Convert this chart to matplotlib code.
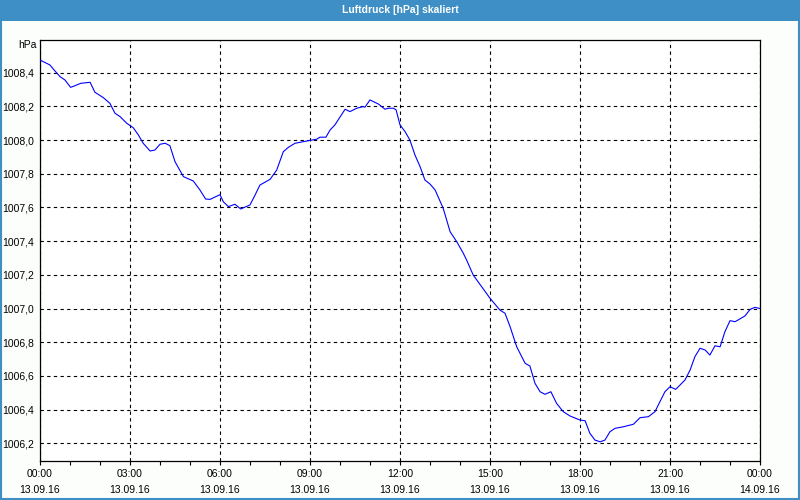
import matplotlib.pyplot as plt
from matplotlib.ticker import MultipleLocator, FixedLocator

# Luftdruck, 13.09.16 00:00 bis 14.09.16 00:00 (Stunden seit Mitternacht)
hours = [0.0, 0.33, 0.5, 0.67, 0.83, 1.02, 1.17, 1.36, 1.67, 1.83, 2.11, 2.33,
         2.5, 2.67, 2.89, 3.11, 3.28, 3.44, 3.67, 3.83, 4.0, 4.17, 4.33, 4.5,
         4.78, 5.11, 5.33, 5.52, 5.67, 6.0, 6.11, 6.28, 6.5, 6.69, 7.0, 7.17,
         7.33, 7.67, 7.89, 8.11, 8.28, 8.5, 8.94, 9.22, 9.33, 9.53, 9.67, 9.83,
         10.17, 10.33, 10.56, 10.78, 10.83, 11.0, 11.28, 11.5, 11.61, 11.78,
         11.87, 12.0, 12.17, 12.33, 12.5, 12.67, 12.83, 13.0, 13.17, 13.44,
         13.67, 13.89, 14.11, 14.22, 14.44, 14.72, 15.0, 15.33, 15.5, 15.67,
         15.89, 16.17, 16.33, 16.5, 16.67, 16.83, 17.03, 17.22, 17.44, 17.67,
         18.0, 18.17, 18.33, 18.5, 18.67, 18.83, 19.0, 19.17, 19.44, 19.78,
         20.0, 20.28, 20.5, 20.83, 21.0, 21.19, 21.5, 21.67, 21.83, 22.0,
         22.17, 22.33, 22.5, 22.67, 22.83, 23.0, 23.17, 23.5, 23.67, 23.83, 24.0]
pressure = [1008.475, 1008.446, 1008.41, 1008.376, 1008.357, 1008.313, 1008.323,
            1008.337, 1008.343, 1008.284, 1008.252, 1008.218, 1008.159, 1008.139,
            1008.10, 1008.073, 1008.03, 1007.981, 1007.935, 1007.941, 1007.975,
            1007.981, 1007.967, 1007.872, 1007.783, 1007.757, 1007.704, 1007.65,
            1007.648, 1007.676, 1007.634, 1007.605, 1007.619, 1007.591, 1007.615,
            1007.674, 1007.733, 1007.767, 1007.822, 1007.931, 1007.957, 1007.981,
            1007.996, 1008.005, 1008.017, 1008.017, 1008.06, 1008.09, 1008.183,
            1008.169, 1008.189, 1008.199, 1008.195, 1008.238, 1008.214, 1008.183,
            1008.189, 1008.189, 1008.179, 1008.09, 1008.05, 1008.0, 1007.911,
            1007.842, 1007.763, 1007.739, 1007.704, 1007.595, 1007.456, 1007.397,
            1007.328, 1007.288, 1007.199, 1007.13, 1007.061, 1006.991, 1006.972,
            1006.892, 1006.773, 1006.675, 1006.659, 1006.556, 1006.506, 1006.491,
            1006.506, 1006.437, 1006.388, 1006.362, 1006.338, 1006.334, 1006.259,
            1006.219, 1006.209, 1006.219, 1006.269, 1006.289, 1006.298, 1006.313,
            1006.352, 1006.358, 1006.388, 1006.506, 1006.536, 1006.52, 1006.576,
            1006.635, 1006.714, 1006.764, 1006.754, 1006.724, 1006.779, 1006.773,
            1006.862, 1006.928, 1006.922, 1006.956, 1006.995, 1007.007, 1007.0]

tick_hours = [0, 3, 6, 9, 12, 15, 18, 21, 24]
tick_labels = ["00:00\n13.09.16", "03:00\n13.09.16", "06:00\n13.09.16",
               "09:00\n13.09.16", "12:00\n13.09.16", "15:00\n13.09.16",
               "18:00\n13.09.16", "21:00\n13.09.16", "00:00\n14.09.16"]
y_ticks = [1006.2, 1006.4, 1006.6, 1006.8, 1007.0, 1007.2, 1007.4, 1007.6,
           1007.8, 1008.0, 1008.2, 1008.4]

plt.rcParams['font.family'] = ['Liberation Sans', 'DejaVu Sans']
plt.rcParams['font.size'] = 7.5

fig = plt.figure(figsize=(8, 5), dpi=100, facecolor='#fcfefc')

# Titelleiste
fig.patches.append(plt.Rectangle((0, 0.959), 1, 0.041, transform=fig.transFigure,
                                 facecolor='#3d8fc6', edgecolor='none', zorder=0))
fig.text(0.5, 0.98, "Luftdruck [hPa] skaliert", color='white', fontsize=7.5,
         fontweight='bold', ha='center', va='center')
# blauer Rahmen
fig.patches.append(plt.Rectangle((0.001, 0.002), 0.998, 0.96, transform=fig.transFigure,
                                 facecolor='none', edgecolor='#3d8fc6', linewidth=1.5))

ax = fig.add_axes([0.05, 0.078, 0.9, 0.842])
ax.set_facecolor('white')
ax.plot(hours, pressure, color='#0000ff', linewidth=0.8, zorder=3)

ax.set_xlim(0, 24)
ax.set_ylim(1006.095, 1008.594)

ax.xaxis.set_major_locator(FixedLocator(tick_hours))
ax.set_xticklabels(tick_labels)
ax.xaxis.set_minor_locator(MultipleLocator(1))
ax.set_yticks(y_ticks)
ax.set_yticklabels([f"{v:.1f}".replace('.', ',') for v in y_ticks])

for lab in ax.get_xticklabels():
    lab.set_linespacing(1.75)

ax.tick_params(axis='x', which='both', direction='out', length=3, width=0.8, pad=3)
ax.tick_params(axis='y', length=0, pad=4)

ax.grid(True, which='major', color='black', linestyle=(0, (3, 3)), linewidth=0.8)
for s in ax.spines.values():
    s.set_linewidth(0.9)

ax.text(-0.005, 0.988, "hPa", transform=ax.transAxes, ha='right', va='center')

plt.savefig("out.png", dpi=100, facecolor=fig.get_facecolor())
